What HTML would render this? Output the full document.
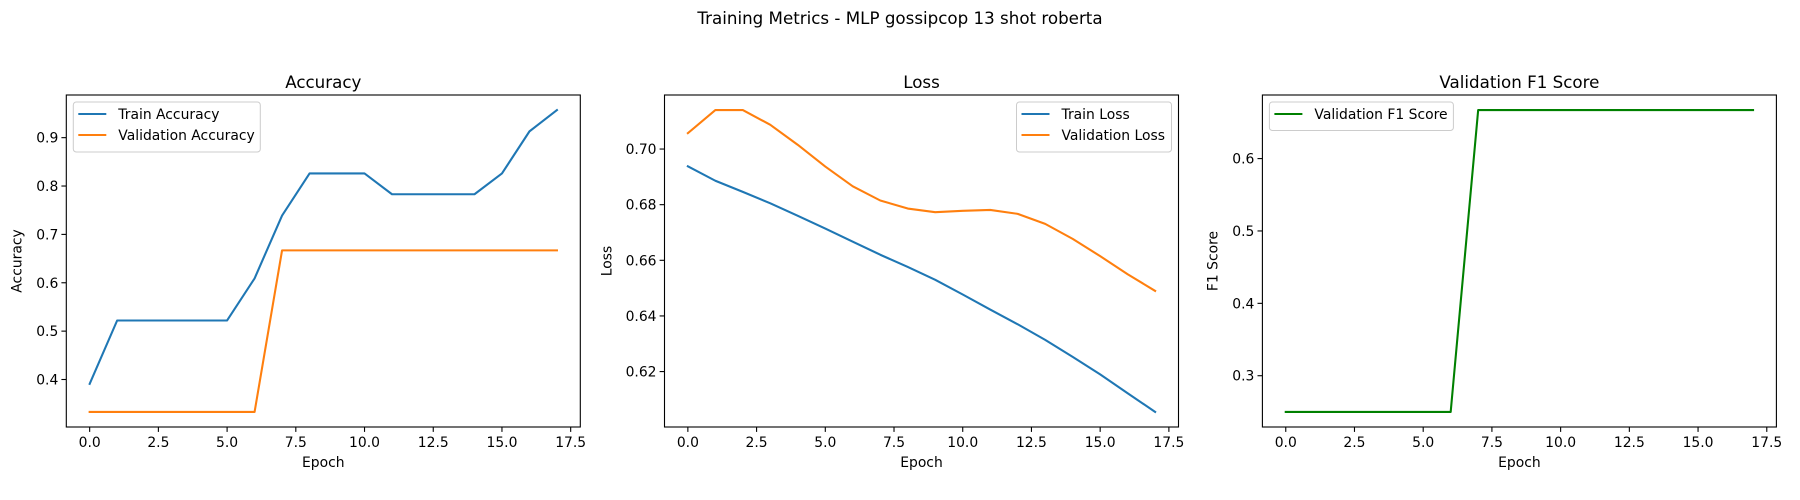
<!DOCTYPE html>
<html><head><meta charset="utf-8"><style>
html,body{margin:0;padding:0;background:#fff;}
svg{display:block;font-family:"DejaVu Sans","Liberation Sans",sans-serif;}
</style></head><body>
<svg id="fig" width="1800" height="500" viewBox="0 0 1800 500" xmlns="http://www.w3.org/2000/svg">
<rect width="1800" height="500" fill="#fff"/>
<text x="900" y="24" font-size="16.7" text-anchor="middle">Training Metrics - MLP gossipcop 13 shot roberta</text>
</svg>
<script>
const epochs = [0,1,2,3,4,5,6,7,8,9,10,11,12,13,14,15,16,17];
const trainAcc = [0.391,0.522,0.522,0.522,0.522,0.522,0.609,0.739,0.826,0.826,0.826,0.783,0.783,0.783,0.783,0.826,0.913,0.957];
const valAcc = [0.333,0.333,0.333,0.333,0.333,0.333,0.333,0.667,0.667,0.667,0.667,0.667,0.667,0.667,0.667,0.667,0.667,0.667];
const trainLoss = [0.6938,0.6886,0.6846,0.6805,0.6760,0.6714,0.6667,0.6620,0.6576,0.6530,0.6477,0.6423,0.6370,0.6314,0.6253,0.6190,0.6122,0.6055];
const valLoss = [0.7057,0.7140,0.7140,0.7087,0.7015,0.6937,0.6866,0.6815,0.6786,0.6773,0.6778,0.6781,0.6767,0.6731,0.6677,0.6615,0.6550,0.6490];
const valF1 = [0.25,0.25,0.25,0.25,0.25,0.25,0.25,0.667,0.667,0.667,0.667,0.667,0.667,0.667,0.667,0.667,0.667,0.667];
const xTicks = [0,2.5,5,7.5,10,12.5,15,17.5];
const xTickLabels = ["0.0","2.5","5.0","7.5","10.0","12.5","15.0","17.5"];
const accTicks = [0.4,0.5,0.6,0.7,0.8,0.9];
const accTickLabels = ["0.4","0.5","0.6","0.7","0.8","0.9"];
const lossTicks = [0.62,0.64,0.66,0.68,0.70];
const lossTickLabels = ["0.62","0.64","0.66","0.68","0.70"];
const f1Ticks = [0.3,0.4,0.5,0.6];
const f1TickLabels = ["0.3","0.4","0.5","0.6"];

const NS = "http://www.w3.org/2000/svg";
const svg = document.getElementById('fig');
function mk(tag, attrs, parent){
  const e = document.createElementNS(NS, tag);
  for (const k in attrs) e.setAttribute(k, attrs[k]);
  (parent||svg).appendChild(e);
  return e;
}
const TOP=95, BOT=427, W=514;
function extent(arrs){
  let mn=Infinity,mx=-Infinity;
  arrs.forEach(a=>a.forEach(v=>{mn=Math.min(mn,v);mx=Math.max(mx,v);}));
  const p=(mx-mn)*0.05; return [mn-p,mx+p];
}
function panel(cfg){
  const g = mk('g',{});
  
  
  const L=cfg.left, R=L+W;
  const xmin=-0.85, xmax=17.85;
  const [ymin,ymax]=extent(cfg.series.map(s=>s.data));
  const sx=v=>L+(v-xmin)/(xmax-xmin)*W;
  const sy=v=>BOT-(v-ymin)/(ymax-ymin)*(BOT-TOP);
  cfg.series.forEach(s=>{
    const pts=epochs.map((e,i)=>sx(e).toFixed(2)+','+sy(s.data[i]).toFixed(2)).join(' ');
    const pl=mk('polyline',{points:pts,fill:'none',stroke:s.color,'stroke-width':2.08,'stroke-linejoin':'round','stroke-linecap':'square'},g);
    
    
  });
  const fr=mk('rect',{x:L,y:TOP,width:W,height:BOT-TOP,fill:'none',stroke:'#000','stroke-width':1.1},g);
  
  
  xTicks.forEach((t,i)=>{
    const x=sx(t);
    mk('line',{x1:x,y1:BOT,x2:x,y2:BOT+4.9,stroke:'#000','stroke-width':1.1},g);
    const tx=mk('text',{x:x,y:BOT+20,'font-size':13.9,'text-anchor':'middle'},g);
    tx.textContent=xTickLabels[i];
    
    
  });
  cfg.yTicks.forEach((t,i)=>{
    const y=sy(t);
    mk('line',{x1:L-4.9,y1:y,x2:L,y2:y,stroke:'#000','stroke-width':1.1},g);
    const tx=mk('text',{x:L-8,y:y+5,'font-size':13.9,'text-anchor':'end'},g);
    tx.textContent=cfg.yLabels[i];
    
    
  });
  const ti=mk('text',{x:L+W/2,y:TOP-7,'font-size':16.7,'text-anchor':'middle'},g);
  ti.textContent=cfg.title;
  
  
  const xl=mk('text',{x:L+W/2,y:467,'font-size':13.9,'text-anchor':'middle'},g);
  xl.textContent='Epoch';
  
  
  const yc=(TOP+BOT)/2;
  const yl=mk('text',{x:L+cfg.ylOff,y:yc,'font-size':13.9,'text-anchor':'middle',transform:`rotate(-90 ${L+cfg.ylOff} ${yc})`},g);
  yl.textContent=cfg.ylabel;
  
  
  const lg=cfg.legend;
  const lgG=mk('g',{},g);
  
  
  const h=cfg.series.length*21.5+7;
  const lx=lg.right? R-7-lg.w : L+7;
  mk('rect',{x:lx,y:102,width:lg.w,height:h,rx:3,fill:'#fff','fill-opacity':0.8,stroke:'#ccc','stroke-width':1},lgG);
  cfg.series.forEach((s,i)=>{
    const y=114+i*21;
    const en=mk('g',{},lgG);
    
    
    mk('line',{x1:lx+5,y1:y,x2:lx+33,y2:y,stroke:s.color,'stroke-width':2.08},en);
    const t=mk('text',{x:lx+45,y:y+5,'font-size':13.9},en);
    t.textContent=s.label;
  });
}
panel({name:'accuracy-chart',left:66.3,title:'Accuracy',ylabel:'Accuracy',ylOff:-45,yTicks:accTicks,yLabels:accTickLabels,
  legend:{right:false,w:187},
  series:[{id:'train-accuracy',label:'Train Accuracy',color:'#1f77b4',data:trainAcc},{id:'validation-accuracy',label:'Validation Accuracy',color:'#ff7f0e',data:valAcc}]});
panel({name:'loss-chart',left:664.5,title:'Loss',ylabel:'Loss',ylOff:-53,yTicks:lossTicks,yLabels:lossTickLabels,
  legend:{right:true,w:155},
  series:[{id:'train-loss',label:'Train Loss',color:'#1f77b4',data:trainLoss},{id:'validation-loss',label:'Validation Loss',color:'#ff7f0e',data:valLoss}]});
panel({name:'f1-chart',left:1262.4,title:'Validation F1 Score',ylabel:'F1 Score',ylOff:-45,yTicks:f1Ticks,yLabels:f1TickLabels,
  legend:{right:false,w:184},
  series:[{id:'validation-f1',label:'Validation F1 Score',color:'#008000',data:valF1}]});
</script>
</body></html>
